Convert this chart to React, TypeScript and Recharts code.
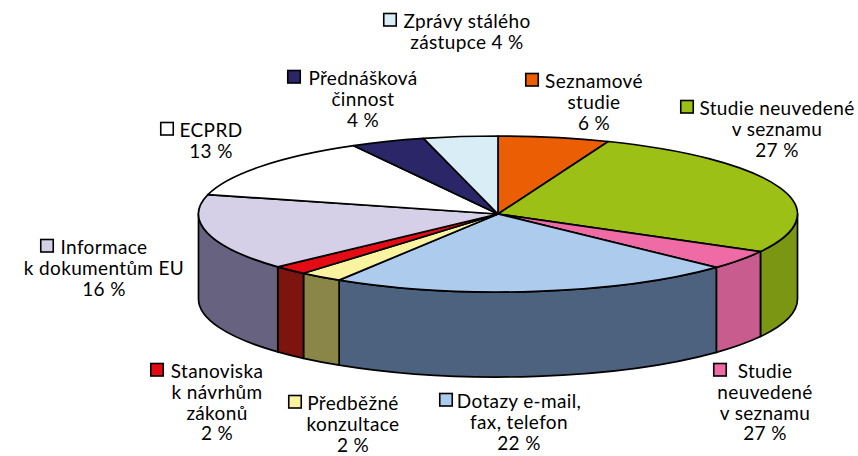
import { Pie, PieChart } from "recharts";

// category names and slice shares
const names = ["Seznamové studie", "Studie neuvedené v seznamu", "Studie neuvedené v seznamu (2)", "Dotazy e-mail, fax, telefon", "Předběžné konzultace", "Stanoviska k návrhům zákonů", "Informace k dokumentům EU", "ECPRD", "Přednášková činnost", "Zprávy stálého zástupce"];
const values = [6, 27, 4, 21.9, 2.35, 1.9, 15.85, 13, 4, 4];
const topColors = ["#ec5e04", "#9dc016", "#ee6ba6", "#accbed", "#faf3a0", "#e30c14", "#d5d0e8", "#ffffff", "#2a2668", "#d9edf6"];
const sideColors = ["#a04003", "#7a9612", "#c85c8f", "#4c627f", "#8a8648", "#7e140e", "#67627f", "#999999", "#1a1840", "#8a979c"];
const labelLines = [
  ["Seznamové", "studie", "6 %"],
  ["Studie neuvedené", "v seznamu", "27 %"],
  ["Studie", "neuvedené", "v seznamu", "27 %"],
  ["Dotazy e-mail,", "fax, telefon", "22 %"],
  ["Předběžné", "konzultace", "2 %"],
  ["Stanoviska", "k návrhům", "zákonů", "2 %"],
  ["Informace", "k dokumentům EU", "16 %"],
  ["ECPRD", "13 %"],
  ["Přednášková", "činnost", "4 %"],
  ["Zprávy stálého", "zástupce 4 %"],
];
// label placement: text centre x, first baseline y, swatch left x
const labelPos = [
  [594, 88, 525],
  [777, 115, 680],
  [765, 378, 713],
  [519, 408, 439],
  [353, 410, 288],
  [217, 378, 150],
  [104, 254, 40],
  [211, 137, 160],
  [363, 85, 287],
  [467, 28, 383],
];

const CX = 498;
const CY = 214;
const RX = 299.5;
const RY = 78;
const DEPTH = 85;

const data = names.map((name, i) => ({ name, value: values[i] }));

const pt = (a: number, r: number, cx: number, cy: number, dy = 0) => {
  const rad = (a * Math.PI) / 180;
  return `${(cx + r * Math.cos(rad)).toFixed(2)} ${(cy - r * (RY / RX) * Math.sin(rad) + dy).toFixed(2)}`;
};

// recharts hands over the angles, we only squash the circle to an ellipse
function TopSlice(p: any) {
  const ry = p.outerRadius * (RY / RX);
  const large = p.startAngle - p.endAngle > 180 ? 1 : 0;
  const d = `M${p.cx} ${p.cy} L${pt(p.startAngle, p.outerRadius, p.cx, p.cy)} A${p.outerRadius} ${ry} 0 ${large} 1 ${pt(p.endAngle, p.outerRadius, p.cx, p.cy)} Z`;
  return <path d={d} fill={topColors[p.index]} stroke="#000" strokeWidth={1.7} strokeLinejoin="round" />;
}

function SideSlice(p: any) {
  const a0 = Math.min(p.startAngle, 0);
  const a1 = Math.max(p.endAngle, -180);
  if (a0 <= a1) return <g />;
  const r = p.outerRadius;
  const ry = r * (RY / RX);
  const d = `M${pt(a0, r, p.cx, p.cy)} A${r} ${ry} 0 0 1 ${pt(a1, r, p.cx, p.cy)} L${pt(a1, r, p.cx, p.cy, DEPTH)} A${r} ${ry} 0 0 0 ${pt(a0, r, p.cx, p.cy, DEPTH)} Z`;
  return <path d={d} fill={sideColors[p.index]} stroke="#000" strokeWidth={1.7} strokeLinejoin="round" />;
}

function SliceLabel(p: any) {
  const [x, y, sx] = labelPos[p.index];
  return (
    <g>
      <rect x={sx + 0.75} y={y - 14.5} width={12.5} height={12.5} fill={topColors[p.index]} stroke="#000" strokeWidth={1.6} />
      {labelLines[p.index].map((line, i) => (
        <text key={i} x={x} y={y + i * 20.8} textAnchor="middle" fontSize={19} letterSpacing={0.35} fontFamily="Lato" fill="#000">
          {line}
        </text>
      ))}
    </g>
  );
}

export default function App() {
  return (
    <div style={{ position: "absolute", left: 0, top: 0 }}>
      <PieChart width={858} height={456} margin={{ top: 0, right: 0, bottom: 0, left: 0 }}>
        <Pie data={data} dataKey="value" nameKey="name" cx={CX} cy={CY} innerRadius={0} outerRadius={RX} startAngle={90} endAngle={-270} paddingAngle={0} stroke="none" isAnimationActive={false} shape={SideSlice} />
        <Pie data={data} dataKey="value" nameKey="name" cx={CX} cy={CY} innerRadius={0} outerRadius={RX} startAngle={90} endAngle={-270} paddingAngle={0} stroke="none" isAnimationActive={false} shape={TopSlice} label={SliceLabel} labelLine={false} />
      </PieChart>
    </div>
  );
}
